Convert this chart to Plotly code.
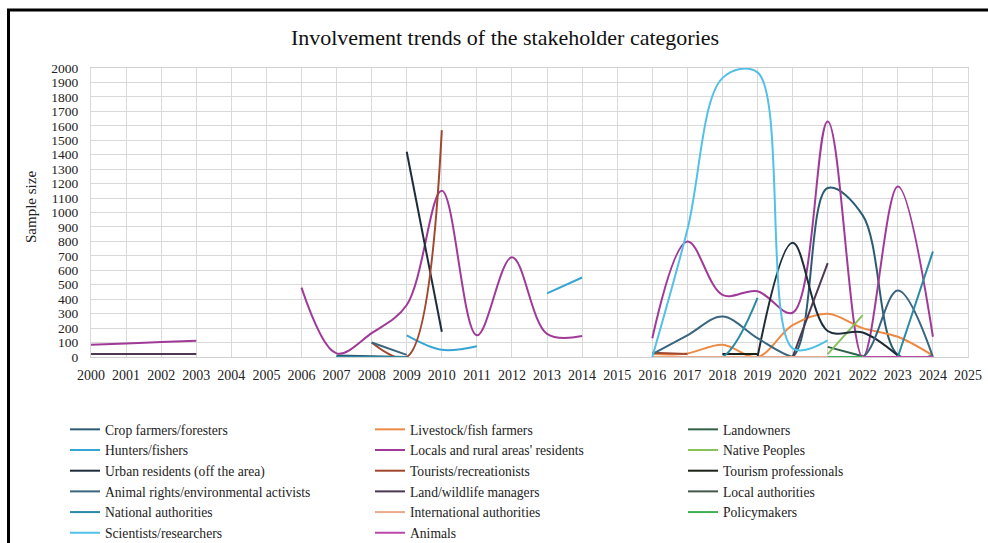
import plotly.graph_objects as go

N = None
years = list(range(2000, 2025))

# values per year 2000..2024 (None = no data)
crop_farmers   = [N,N,N,N,N,N,N, 10,5,0, N,N,N,N,N,N, 0,0,0,0,0,1170,980,15,10]
livestock      = [N]*16 + [20,25,85,0,220,300,200,140,10]
landowners     = [N]*21 + [70,5,N,N]
hunters        = [N]*9 + [150,50,75,N,440,550] + [N] + [0,0,0,0,0,0,0,0,0]
locals_rural   = [85,93,103,112,N,N,480,25,165,360,1150,150,690,160,145,N,130,800,430,455,306,1630,0,1180,140]
native_peoples = [N]*21 + [20,290,N,N]
urban          = [N]*9 + [1420,175] + [N]*8 + [0,790,180,170,10,N]
tourists       = [N]*8 + [100,0,1570] + [N]*5 + [30,20] + [N]*7
tourism_prof   = [N]*7 + [0,0,0] + [N]*8 + [20,20] + [N]*5
animal_rights  = [N]*8 + [100,15] + [N]*6 + [20,150,280,130,0,0,0,460,0]
land_wildlife  = [20,20,20,20] + [N]*16 + [0,650] + [N]*3
local_auth     = [N]*16 + [0,0,0,0,0,0,0,0,0]
national       = [N]*7 + [0,0,0] + [N]*6 + [0,0,0,410] + [N]*3 + [0,730]
international  = [N]*16 + [0,0,0,0,0,0,0,0,0]
policymakers   = [N]*21 + [0,0,N,N]
scientists     = [N]*16 + [0,880,1930,1970,60,115,N,N,N]
animals        = [N]*22 + [0,0,0]

series = [
    ("Crop farmers/foresters", crop_farmers, "#2B5C74", "legend"),
    ("Livestock/fish farmers", livestock, "#EC8A45", "legend2"),
    ("Landowners", landowners, "#2F6048", "legend3"),
    ("Hunters/fishers", hunters, "#35A6D4", "legend"),
    ("Locals and rural areas' residents", locals_rural, "#A03A98", "legend2"),
    ("Native Peoples", native_peoples, "#86C25A", "legend3"),
    ("Urban residents (off the area)", urban, "#1E2C3A", "legend"),
    ("Tourists/recreationists", tourists, "#A2472F", "legend2"),
    ("Tourism professionals", tourism_prof, "#1A2218", "legend3"),
    ("Animal rights/environmental activists", animal_rights, "#3A6580", "legend"),
    ("Land/wildlife managers", land_wildlife, "#4C3852", "legend2"),
    ("Local authorities", local_auth, "#44584A", "legend3"),
    ("National authorities", national, "#2A8AA6", "legend"),
    ("International authorities", international, "#EBA98A", "legend2"),
    ("Policymakers", policymakers, "#3DB152", "legend3"),
    ("Scientists/researchers", scientists, "#52C0E8", "legend"),
    ("Animals", animals, "#BC47AC", "legend2"),
]

fig = go.Figure()
for name, vals, color, leg in series:
    fig.add_trace(go.Scatter(
        x=years, y=vals, name=name, mode="lines",
        line=dict(color=color, width=2, shape="spline", smoothing=1.0),
        connectgaps=False, legend=leg,
    ))

FONT = "Liberation Serif, Times New Roman, serif"
W, H = 988, 543
L, R, T, B = 91, 968, 68, 357
pw, ph = R - L, B - T

def px(xp):
    return (xp - L) / pw

def py(yp):
    return (B - yp) / ph

leg_common = dict(orientation="v", yanchor="top", xanchor="left",
                  font=dict(family=FONT, size=13.6, color="#222"),
                  bgcolor="rgba(0,0,0,0)", tracegroupgap=0, itemwidth=30)

fig.update_layout(
    width=W, height=H,
    margin=dict(l=L, r=W - R, t=T, b=H - B, autoexpand=False),
    paper_bgcolor="white", plot_bgcolor="white",
    font=dict(family=FONT, size=13, color="#222"),
    title=dict(text="Involvement trends of the stakeholder categories",
               font=dict(family=FONT, size=22, color="#111"),
               x=px(505), xanchor="center", xref="paper",
               y=1 - 37 / H, yanchor="middle", yref="container"),
    xaxis=dict(range=[2000, 2025], tick0=2000, dtick=1, showgrid=True,
               gridcolor="#D9D9D9", gridwidth=1, zeroline=False,
               showline=True, linecolor="#D0D0D0", mirror=True,
               ticks="", ticklabelstandoff=5,
               tickfont=dict(family=FONT, size=14, color="#222")),
    yaxis=dict(range=[0, 2000], tick0=0, dtick=100, showgrid=True,
               gridcolor="#D9D9D9", gridwidth=1, zeroline=False,
               showline=True, linecolor="#D9D9D9", mirror=True,
               ticks="", ticklabelstandoff=9,
               tickfont=dict(family=FONT, size=13.5, color="#222")),
    legend=dict(x=px(65), y=py(414), **leg_common),
    legend2=dict(x=px(370), y=py(414), **leg_common),
    legend3=dict(x=px(683), y=py(414), **leg_common),
    showlegend=True,
)

fig.add_annotation(text="Sample size", textangle=-90, xref="paper", yref="paper",
                   x=px(31), y=py(207), xanchor="center", yanchor="middle",
                   showarrow=False, font=dict(family=FONT, size=15, color="#222"))

# outer frame
fig.add_shape(type="rect", xref="paper", yref="paper",
              x0=px(8.5), x1=px(1000), y0=py(560), y1=py(10),
              line=dict(color="black", width=3), fillcolor="rgba(0,0,0,0)", layer="above")

fig.write_html("out.html", config={"displayModeBar": False},
               post_script="document.body.style.margin='0';document.body.style.overflow='hidden';")
